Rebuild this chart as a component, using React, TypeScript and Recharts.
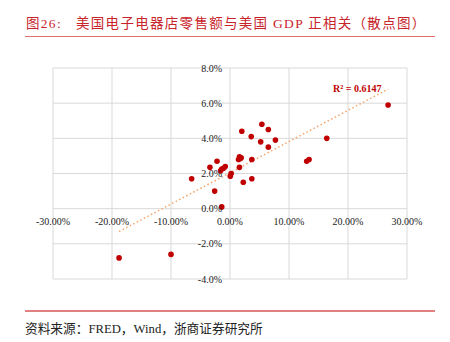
import { ScatterChart, Scatter, XAxis, YAxis, CartesianGrid, ReferenceLine } from "recharts";

// 美国电子电器店零售额同比（x）与美国 GDP 同比（y），单位 %
const retailGrowth = [
  26.8, 16.4, 13.0, 13.4, 5.4, 6.5, 2.0, 3.6, 7.7, 5.2, 6.5, 3.7,
  1.6, 1.9, 1.75, 1.45, 1.6, -2.2, -3.4, -0.8, -1.4, -1.1, -1.6,
  0.2, 0.05, 3.7, 2.25, -2.6, -1.4, -6.5, -18.8, -10.0,
];
const gdpGrowth = [
  5.9, 4.0, 2.7, 2.8, 4.8, 4.5, 4.4, 4.1, 3.9, 3.8, 3.5, 2.8,
  2.95, 2.9, 2.85, 2.8, 2.35, 2.7, 2.35, 2.4, 2.25, 2.3, 2.15,
  2.0, 1.85, 1.7, 1.5, 1.0, 0.1, 1.7, -2.8, -2.6,
];
// 趋势线两端
const trendX = [-18.8, 26.8];
const trendY = [-1.3, 6.8];
const xTicks = [-30, -20, -10, 0, 10, 20, 30];
const yTicks = [-4, -2, 0, 2, 4, 6, 8];
const r2Label = "R² = 0.6147";

const W = 450;
const H = 342;
const PLOT_L = 53;
const PLOT_T = 68;
const PLOT_R = 407;
const PLOT_B = 279;
const X_MIN = -30, X_MAX = 30, Y_MIN = -4, Y_MAX = 8;

const zeroX = PLOT_L + ((0 - X_MIN) / (X_MAX - X_MIN)) * (PLOT_R - PLOT_L);
const zeroY = PLOT_T + ((Y_MAX - 0) / (Y_MAX - Y_MIN)) * (PLOT_B - PLOT_T);

const serif = '"Liberation Serif", "Times New Roman", "Noto Sans CJK SC", serif';

export default function App() {
  const points = retailGrowth.map((x, i) => ({ x, y: gdpGrowth[i] }));

  const XTick = (props: any) => (
    <text x={props.x} y={zeroY + 16} textAnchor="middle" fontSize={10} fontFamily={serif} fill="#222">
      {props.payload.value.toFixed(2) + "%"}
    </text>
  );
  const YTick = (props: any) => (
    <text x={zeroX - 8} y={props.y + 3.5} textAnchor="end" fontSize={10} fontFamily={serif} fill="#222">
      {props.payload.value.toFixed(1) + "%"}
    </text>
  );

  return (
    <div style={{ position: "absolute", left: 0, top: 0, width: W, height: H, background: "#fff", fontFamily: serif }}>
      <div style={{ position: "absolute", left: 26, top: 12, fontSize: 13.5, color: "#C8242B", whiteSpace: "nowrap", letterSpacing: 1.3 }}>
        图26:&nbsp;&nbsp;&nbsp;美国电子电器店零售额与美国 GDP 正相关（散点图）
      </div>
      <div style={{ position: "absolute", left: 25, top: 36, width: 410, height: 1, background: "#E07070" }} />

      <ScatterChart width={W} height={H} margin={{ top: PLOT_T, right: W - PLOT_R, bottom: H - PLOT_B - 20, left: PLOT_L - 20 }}>
        <CartesianGrid stroke="#D9D9D9" strokeWidth={1} />
        <XAxis
          type="number"
          dataKey="x"
          domain={[X_MIN, X_MAX]}
          ticks={xTicks}
          height={20}
          axisLine={false}
          tickLine={false}
          tick={XTick}
          allowDataOverflow
        />
        <YAxis
          type="number"
          dataKey="y"
          domain={[Y_MIN, Y_MAX]}
          ticks={yTicks}
          width={20}
          axisLine={false}
          tickLine={false}
          tick={YTick}
          allowDataOverflow
        />
        <ReferenceLine
          segment={[
            { x: trendX[0], y: trendY[0] },
            { x: trendX[1], y: trendY[1] },
          ]}
          stroke="#F4A46A"
          strokeWidth={1.5}
          strokeDasharray="1.5 2.5"
          ifOverflow="visible"
        />
        <Scatter data={points} fill="#C00000" isAnimationActive={false} shape={(p: any) => <circle cx={p.cx} cy={p.cy} r={2.8} fill="#C00000" />} />
      </ScatterChart>

      <div style={{ position: "absolute", left: 333, top: 83, fontSize: 10, fontWeight: "bold", color: "#C00000", whiteSpace: "nowrap" }}>
        {r2Label}
      </div>

      <div style={{ position: "absolute", left: 25, top: 310, width: 410, height: 1.5, background: "#E08080" }} />
      <div style={{ position: "absolute", left: 25, top: 318, fontSize: 12.7, color: "#222", whiteSpace: "nowrap" }}>
        资料来源：FRED，Wind，浙商证券研究所
      </div>
    </div>
  );
}
